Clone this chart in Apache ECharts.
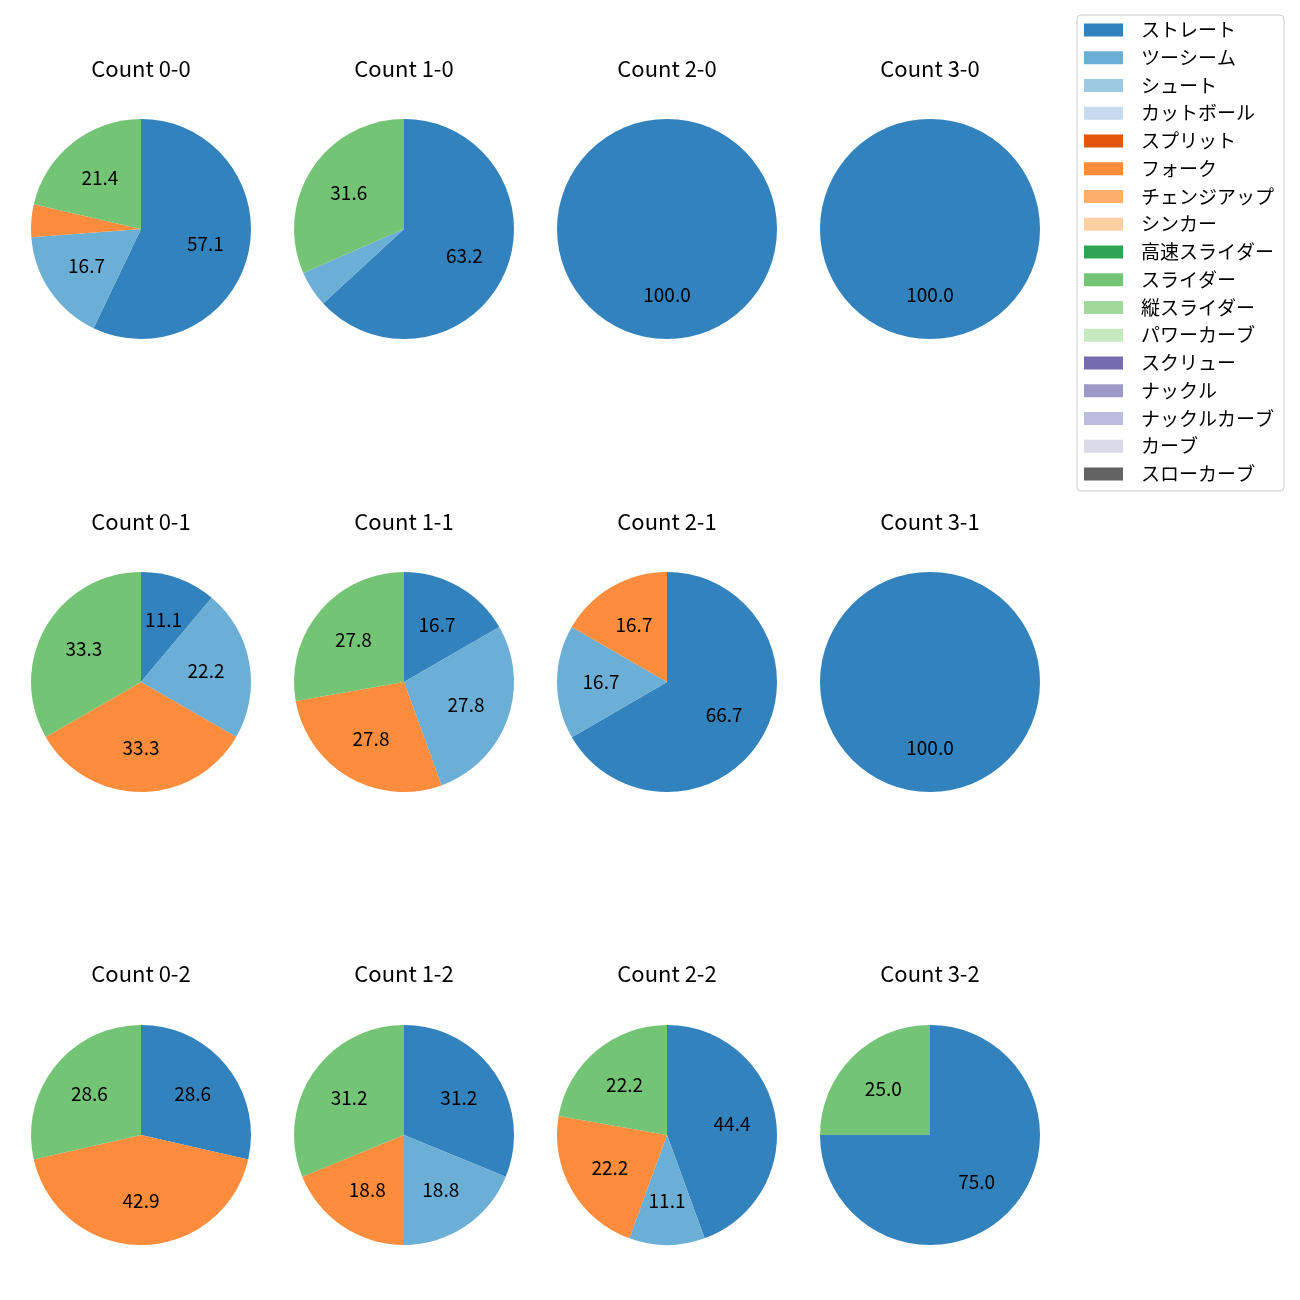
<!DOCTYPE html>
<html>
<head>
<meta charset="utf-8">
<script src="https://cdn.jsdelivr.net/npm/echarts@6/dist/echarts.min.js"></script>
<style>
html, body { margin: 0; padding: 0; background: #fff; }
#chart { width: 1300px; height: 1300px; }
</style>
</head>
<body>
<div id="chart"></div>
<script>
// ---- data ----
const pitchTypes = ['ストレート','ツーシーム','シュート','カットボール','スプリット','フォーク','チェンジアップ','シンカー','高速スライダー','スライダー','縦スライダー','パワーカーブ','スクリュー','ナックル','ナックルカーブ','カーブ','スローカーブ'];
const pitchColors = ['#3182bd','#6baed6','#9ecae1','#c6dbef','#e6550d','#fd8d3c','#fdae6b','#fdd0a2','#31a354','#74c476','#a1d99b','#c7e9c0','#756bb1','#9e9ac8','#bcbddc','#dadaeb','#636363'];
const panelTitles = ['Count 0-0','Count 1-0','Count 2-0','Count 3-0','Count 0-1','Count 1-1','Count 2-1','Count 3-1','Count 0-2','Count 1-2','Count 2-2','Count 3-2'];
// shares (%) for: ストレート, ツーシーム, フォーク, スライダー
const shownTypes = ['ストレート','ツーシーム','フォーク','スライダー'];
const share00 = [57.1, 16.7, 4.8, 21.4];
const share10 = [63.2, 5.3, 0, 31.6];
const share20 = [100.0, 0, 0, 0];
const share30 = [100.0, 0, 0, 0];
const share01 = [11.1, 22.2, 33.3, 33.3];
const share11 = [16.7, 27.8, 27.8, 27.8];
const share21 = [66.7, 16.7, 16.7, 0];
const share31 = [100.0, 0, 0, 0];
const share02 = [28.6, 0, 42.9, 28.6];
const share12 = [31.2, 18.8, 18.8, 31.2];
const share22 = [44.4, 11.1, 22.2, 22.2];
const share32 = [75.0, 0, 0, 25.0];
const panelShares = [share00, share10, share20, share30, share01, share11, share21, share31, share02, share12, share22, share32];

// ---- layout ----
const colX = [141, 404, 667, 930];
const rowY = [229, 682, 1135];
const titleY = [69, 522, 974];
const R = 110;
const LABEL_R = 2 * (0.6 * R) - 6;
const FONT = "'Noto Sans CJK JP', 'Noto Sans', sans-serif";

function buildData(shares, overlay) {
  return pitchTypes.map(function (name, i) {
    const k = shownTypes.indexOf(name);
    return {
      name: name,
      value: k >= 0 ? shares[k] : 0,
      itemStyle: { color: overlay ? 'rgba(0,0,0,0)' : pitchColors[i] }
    };
  });
}

const series = [];
const graphics = [];
panelShares.forEach(function (shares, p) {
  const cx = colX[p % 4], cy = rowY[Math.floor(p / 4)];
  series.push({
    type: 'pie', name: panelTitles[p], center: [cx, cy], radius: [0, R],
    startAngle: 90, clockwise: true, silent: true, animation: false,
    label: { show: false }, labelLine: { show: false },
    itemStyle: { borderWidth: 0 },
    emphasis: { disabled: true },
    data: buildData(shares, false)
  });
  graphics.push({
    type: 'text', x: cx, y: titleY[Math.floor(p / 4)],
    style: { text: panelTitles[p], fill: '#000', font: '22px ' + FONT, textAlign: 'center', textVerticalAlign: 'middle' }
  });
});
// label-only overlay pies (labels at ~0.6 R)
panelShares.forEach(function (shares, p) {
  const cx = colX[p % 4], cy = rowY[Math.floor(p / 4)];
  series.push({
    type: 'pie', name: panelTitles[p] + ' labels', center: [cx, cy], radius: [0, LABEL_R],
    startAngle: 90, clockwise: true, silent: true, animation: false, legendHoverLink: false,
    itemStyle: { color: 'rgba(0,0,0,0)', borderWidth: 0 },
    emphasis: { disabled: true },
    labelLine: { show: false },
    label: {
      show: true, position: 'inside', color: '#000', fontSize: 19, fontFamily: FONT,
      formatter: function (pp) { return pp.value >= 10 ? pp.value.toFixed(1) : ''; }
    },
    data: buildData(shares, true)
  });
});

const chart = echarts.init(document.getElementById('chart'), null, { renderer: 'canvas' });
chart.setOption({
  backgroundColor: '#fff',
  animation: false,
  legend: {
    data: pitchTypes,
    orient: 'vertical',
    left: 1077, top: 15,
    padding: [5, 10, 7, 7],
    itemWidth: 39, itemHeight: 13, itemGap: 7.75,
    icon: 'rect',
    selectedMode: false,
    backgroundColor: '#fff',
    borderColor: '#cccccc', borderWidth: 1, borderRadius: 4,
    textStyle: { fontSize: 19, fontFamily: FONT, color: '#000', lineHeight: 20, padding: [0, 0, 0, 13] }
  },
  graphic: graphics,
  series: series
});
</script>
</body>
</html>
